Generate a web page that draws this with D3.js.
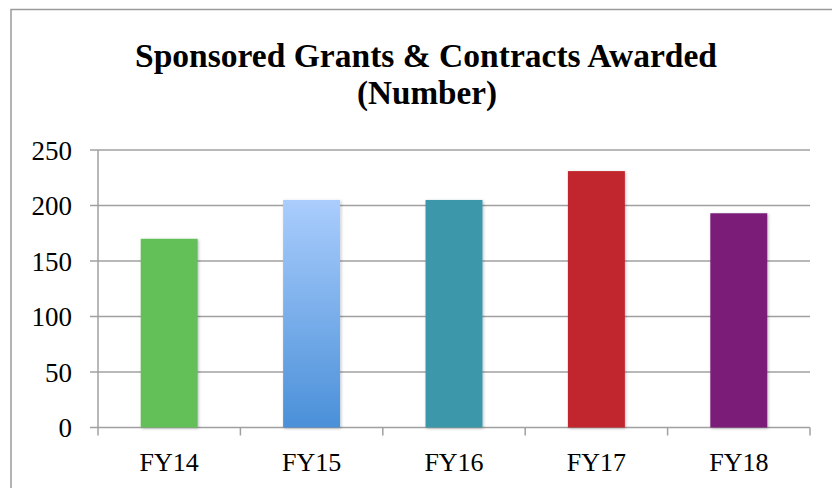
<!DOCTYPE html>
<html>
<head>
<meta charset="utf-8">
<script src="https://cdn.jsdelivr.net/npm/d3@7"></script>
<style>
  body { margin: 0; background: #fff; }
  svg { display: block; }
</style>
</head>
<body>
<svg id="chart"></svg>
<script>
// data
const years = ["FY14", "FY15", "FY16", "FY17", "FY18"];
const awards = [170, 205, 205, 231, 193];
const barColors = ["#63bf58", "url(#blueGrad)", "#3d97aa", "#c1272f", "#7a1a78"];
const yTicks = [0, 50, 100, 150, 200, 250];

const width = 832, height = 488;
const margin = { top: 150, right: 22, bottom: 60.5, left: 98 };

const svg = d3.select("#chart")
    .attr("width", width)
    .attr("height", height);

const defs = svg.append("defs");

// gradient for the FY15 bar
const grad = defs.append("linearGradient")
    .attr("id", "blueGrad")
    .attr("x1", 0).attr("y1", 0)
    .attr("x2", 0).attr("y2", 1);
grad.append("stop").attr("offset", "0%").attr("stop-color", "#aacdfd");
grad.append("stop").attr("offset", "100%").attr("stop-color", "#4a90d8");

// soft shadow on bars
const shadow = defs.append("filter")
    .attr("id", "shadow")
    .attr("x", "-20%").attr("y", "-10%")
    .attr("width", "140%").attr("height", "120%");
shadow.append("feDropShadow")
    .attr("dx", 1).attr("dy", 1)
    .attr("stdDeviation", 1.5)
    .attr("flood-color", "#000")
    .attr("flood-opacity", 0.25);

// outer frame (only left and top edges show)
svg.append("path")
    .attr("d", `M11,${height} L11,9.5 L${width},9.5`)
    .attr("fill", "none")
    .attr("stroke", "#9a9a9a")
    .attr("stroke-width", 1.5);

// title
const title = svg.append("text")
    .attr("text-anchor", "middle")
    .attr("font-family", "'Liberation Serif', 'DejaVu Serif', serif")
    .attr("font-weight", "bold")
    .attr("font-size", 34)
    .attr("fill", "#000");

title.append("tspan").attr("x", 426).attr("y", 67)
    .text("Sponsored Grants & Contracts Awarded");
title.append("tspan").attr("x", 427).attr("y", 104)
    .text("(Number)");

// fit each line to the width seen in the reference
const lineWidths = [582, 140];
title.selectAll("tspan")
    .attr("textLength", (d, i) => lineWidths[i])
    .attr("lengthAdjust", "spacingAndGlyphs");

const x = d3.scaleBand()
    .domain(years)
    .range([margin.left, width - margin.right])
    .paddingInner(0.6)
    .paddingOuter(0.3);

const y = d3.scaleLinear()
    .domain([0, 250])
    .range([height - margin.bottom, margin.top]);

// gridlines
svg.append("g")
    .selectAll("line")
    .data(yTicks)
    .join("line")
    .attr("x1", margin.left - 8)
    .attr("x2", width - margin.right)
    .attr("y1", d => y(d))
    .attr("y2", d => y(d))
    .attr("stroke", "#a0a0a0")
    .attr("stroke-width", 1.5);

// y axis line
svg.append("line")
    .attr("x1", margin.left).attr("x2", margin.left)
    .attr("y1", y(250)).attr("y2", y(0) + 8)
    .attr("stroke", "#a0a0a0")
    .attr("stroke-width", 1.5);

// y tick labels
svg.append("g")
    .selectAll("text")
    .data(yTicks)
    .join("text")
    .attr("x", 72)
    .attr("y", d => y(d))
    .attr("dy", "0.36em")
    .attr("text-anchor", "end")
    .attr("font-family", "'Liberation Serif', 'DejaVu Serif', serif")
    .attr("font-size", 27)
    .attr("fill", "#000")
    .text(d => d);

// x axis tick marks at the category borders
const step = x.step();
const borders = years.map((d, i) => margin.left + step * (i + 1));
svg.append("g")
    .selectAll("line")
    .data(borders)
    .join("line")
    .attr("x1", d => d).attr("x2", d => d)
    .attr("y1", y(0)).attr("y2", y(0) + 8)
    .attr("stroke", "#a0a0a0")
    .attr("stroke-width", 1.5);

// bars
svg.append("g")
    .selectAll("rect")
    .data(years)
    .join("rect")
    .attr("x", d => x(d))
    .attr("width", x.bandwidth())
    .attr("y", (d, i) => y(awards[i]))
    .attr("height", (d, i) => y(0) - y(awards[i]))
    .attr("fill", (d, i) => barColors[i])
    .attr("filter", "url(#shadow)");

// x labels
svg.append("g")
    .selectAll("text")
    .data(years)
    .join("text")
    .attr("x", d => x(d) + x.bandwidth() / 2)
    .attr("y", 470.5)
    .attr("text-anchor", "middle")
    .attr("font-family", "'Liberation Serif', 'DejaVu Serif', serif")
    .attr("font-size", 26)
    .attr("fill", "#000")
    .text(d => d);
</script>
</body>
</html>
